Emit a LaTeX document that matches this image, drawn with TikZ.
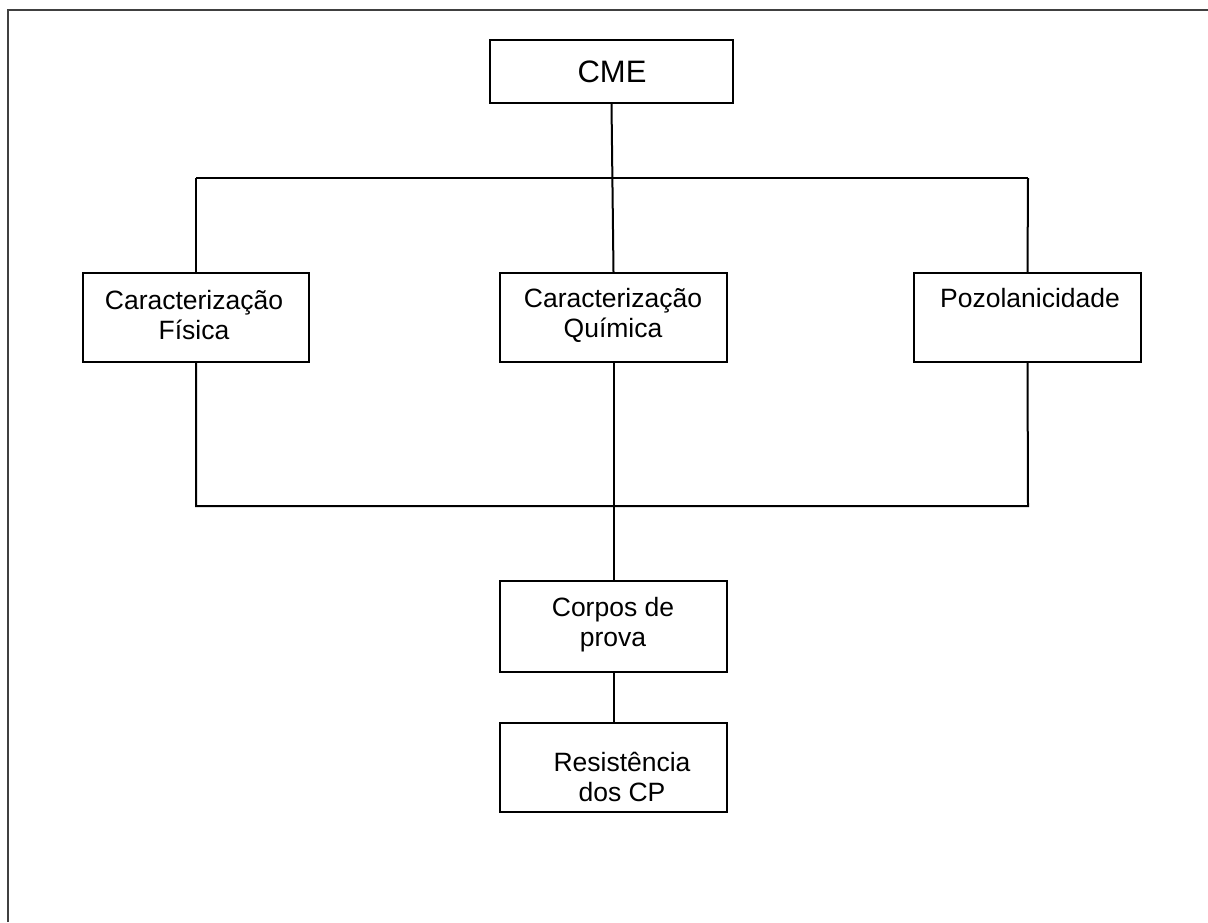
\documentclass[tikz,border=0pt]{standalone}
\usepackage{fontspec}
\setmainfont{Liberation Sans}
\begin{document}
\begin{tikzpicture}[x=1pt,y=-1pt,
  box/.style={draw=black,line width=2pt,rectangle,inner sep=0pt,minimum width=#1},
  box/.default=226pt,
  txt/.style={align=center,inner sep=0pt,font=\fontsize{26.5}{30}\selectfont},
  conn/.style={draw=black,line width=2pt},
  frame/.style={draw=black!75,line width=2pt}]
\useasboundingbox (0,0) rectangle (1208,922);
\draw[frame] (8,922) -- (8,10) -- (1208,10);
% boxes
\node[box=243pt,minimum height=63pt] (cme) at (611.5,71.5) {};
\node[txt,font=\fontsize{31}{34}\selectfont] (cmet) at (612,72) {CME};
\node[box,minimum height=89pt] (fis) at (196,317.5) {};
\node[txt] (fist) at (194,315) {Caracterização\\Física};
\node[box=227pt,minimum height=89pt] (qui) at (613.5,317.5) {};
\node[txt] (quit) at (613,315) {Caracterização\\Química};
\node[box=227pt,minimum height=89pt] (poz) at (1027.5,317.5) {};
\node[txt] (pozt) at (1030,298) {Pozolanicidade};
\node[box=227pt,minimum height=91pt] (cp) at (613.5,626.5) {};
\node[txt] (cpt) at (613,625) {Corpos de\\prova};
\node[box=227pt,minimum height=89pt] (res) at (613.5,767.5) {};
\node[txt] (rest) at (622,777) {Resistência\\dos CP};
% junctions
\coordinate (t1) at (196,178);
\coordinate (t3) at (1028,178);
\coordinate (b1) at (196,506);
\coordinate (b3) at (1028,506);
\coordinate (bm) at (614,506);
% connectors
\draw[conn] (cme.south) -- (qui.north);
\draw[conn] (t1) -- (t3);
\draw[conn] (t1) -- (fis.north);
\draw[conn] (t3) -- (poz.north);
\draw[conn] (fis.south) -- (b1) -- (b3) -- (poz.south);
\draw[conn] (qui.south) -- (cp.north);
\draw[conn] (cp.south) -- (res.north);
\end{tikzpicture}
\end{document}
